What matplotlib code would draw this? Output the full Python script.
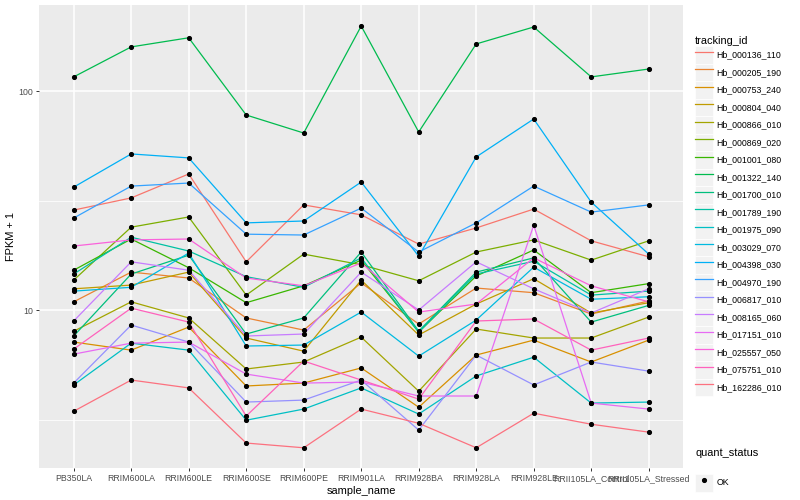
import numpy as np
import matplotlib.pyplot as plt
import matplotlib.ticker as mticker
from matplotlib.lines import Line2D
from matplotlib.patches import Patch
from matplotlib.legend_handler import HandlerTuple

plt.rcParams['font.family'] = ['Liberation Sans', 'DejaVu Sans']

# x categories
samples = ['PB350LA', 'RRIM600LA', 'RRIM600LE', 'RRIM600SE', 'RRIM600PE', 'RRIM901LA',
           'RRIM928BA', 'RRIM928LA', 'RRIM928LE', 'RRII105LA_Control', 'RRII105LA_Stressed']

tracking_ids = ['Hb_000136_110', 'Hb_000205_190', 'Hb_000753_240', 'Hb_000804_040',
                'Hb_000866_010', 'Hb_000869_020', 'Hb_001001_080', 'Hb_001322_140',
                'Hb_001700_010', 'Hb_001789_190', 'Hb_001975_090', 'Hb_003029_070',
                'Hb_004398_030', 'Hb_004970_190', 'Hb_006817_010', 'Hb_008165_060',
                'Hb_017151_010', 'Hb_025557_050', 'Hb_075751_010', 'Hb_162286_010']

# ggplot hue palette for 20 groups
colors = ['#F8766D', '#EA8331', '#D89000', '#C09B00', '#A3A500', '#7CAE00', '#39B600',
          '#00BB4E', '#00BF7D', '#00C1A3', '#00BFC4', '#00BAE0', '#00B0F6', '#35A2FF',
          '#9590FF', '#C77CFF', '#E76BF3', '#FA62DB', '#FF62BC', '#FC717F']

# FPKM + 1 per sample
hb_000136_110 = [28.6, 32.5, 41.8, 16.6, 30.2, 27.2, 20.0, 23.7, 28.9, 20.7, 17.5]
hb_000205_190 = [10.9, 14.9, 14.0, 9.2, 8.1, 13.3, 8.63, 12.6, 12.0, 9.59, 11.0]
hb_000753_240 = [7.14, 6.56, 8.36, 4.50, 4.64, 5.44, 3.60, 6.23, 7.29, 5.79, 7.29]
hb_000804_040 = [12.5, 13.0, 14.9, 7.45, 6.49, 13.7, 7.69, 10.65, 13.9, 9.69, 10.8]
hb_000866_010 = [8.0, 10.9, 9.2, 5.38, 5.79, 7.52, 4.26, 8.19, 7.45, 7.45, 9.29]
hb_000869_020 = [13.7, 23.9, 26.6, 11.7, 18.0, 16.1, 13.6, 18.4, 20.9, 16.9, 20.7]
hb_001001_080 = [15.2, 21.1, 15.6, 10.8, 12.9, 16.9, 7.93, 14.3, 18.8, 12.0, 13.2]
hb_001322_140 = [116, 159, 175, 77.7, 64.3, 198, 65, 164, 196, 116, 126]
hb_001700_010 = [7.61, 14.6, 17.8, 7.77, 9.2, 18.4, 8.01, 14.9, 17.3, 8.81, 10.5]
hb_001789_190 = [14.6, 21.5, 18.6, 14.2, 12.7, 17.3, 7.93, 14.6, 16.7, 11.7, 12.2]
hb_001975_090 = [4.55, 7.06, 6.56, 3.14, 3.53, 4.41, 3.35, 5.0, 6.09, 3.76, 3.80]
hb_003029_070 = [12.2, 12.7, 18.2, 6.85, 6.92, 9.79, 6.16, 9.0, 15.7, 11.2, 11.5]
hb_004398_030 = [36.4, 51.6, 49.5, 25.0, 25.5, 38.4, 17.6, 50.0, 74.5, 31.1, 18.0]
hb_004970_190 = [26.3, 36.8, 38.0, 22.2, 22.0, 29.2, 18.4, 25.0, 36.8, 28.0, 30.2]
hb_006817_010 = [4.64, 8.54, 7.14, 3.80, 3.88, 4.79, 2.83, 6.23, 4.55, 5.79, 5.26]
hb_008165_060 = [8.91, 16.6, 15.2, 7.61, 7.77, 14.9, 10.0, 16.6, 12.5, 9.69, 12.5]
hb_017151_010 = [6.29, 7.06, 7.14, 5.10, 4.64, 4.69, 4.05, 4.05, 24.4, 3.76, 3.53]
hb_025557_050 = [19.6, 20.9, 21.1, 14.0, 12.9, 16.4, 9.79, 10.65, 17.3, 12.9, 10.9]
hb_075751_010 = [6.63, 10.2, 8.81, 3.28, 5.85, 4.79, 3.92, 8.91, 9.1, 6.56, 7.45]
hb_162286_010 = [3.45, 4.79, 4.41, 2.47, 2.35, 3.53, 3.04, 2.35, 3.38, 3.01, 2.77]

series = [hb_000136_110, hb_000205_190, hb_000753_240, hb_000804_040, hb_000866_010,
          hb_000869_020, hb_001001_080, hb_001322_140, hb_001700_010, hb_001789_190,
          hb_001975_090, hb_003029_070, hb_004398_030, hb_004970_190, hb_006817_010,
          hb_008165_060, hb_017151_010, hb_025557_050, hb_075751_010, hb_162286_010]

fig = plt.figure(figsize=(8, 5), dpi=100)
ax = fig.add_axes([0.049, 0.064, 0.805, 0.926])
ax.set_facecolor('#EBEBEB')

x = np.arange(len(samples))
for vals, c in zip(series, colors):
    ax.plot(x, vals, color=c, lw=0.9, zorder=2)
for vals in series:
    ax.plot(x, vals, 'o', ms=2.7, color='black', zorder=3)

ax.set_yscale('log')
ax.set_ylim(1.90, 247)
ax.set_xlim(-0.6, len(samples) - 0.4)
ax.yaxis.set_major_locator(mticker.FixedLocator([10, 100]))
ax.yaxis.set_minor_locator(mticker.FixedLocator([10 ** 0.5, 10 ** 1.5, 10 ** 2.5]))
ax.yaxis.set_major_formatter(mticker.FuncFormatter(lambda v, p: f'{v:g}'))
ax.yaxis.set_minor_formatter(mticker.NullFormatter())
ax.set_xticks(x)
ax.set_xticklabels(samples)

ax.grid(which='major', color='white', lw=1.1)
ax.grid(which='minor', axis='y', color='white', lw=0.55)
ax.set_axisbelow(True)
for s in ax.spines.values():
    s.set_visible(False)
ax.tick_params(which='major', length=2.5, width=0.7, color='#333333',
               labelsize=6.3, labelcolor='#4D4D4D', pad=2)
ax.tick_params(which='minor', length=0)
ax.set_xlabel('sample_name', fontsize=7.9, labelpad=2)
ax.set_ylabel('FPKM + 1', fontsize=7.9, labelpad=1.5)

# legends
key_bg = Patch(facecolor='#F2F2F2', edgecolor='white', lw=0.5)
leg_kw = dict(loc='upper left', frameon=False, fontsize=6.3, title_fontsize=7.9,
              alignment='left', handlelength=2.0, handleheight=2.7, labelspacing=0.0,
              handletextpad=0.45, borderpad=0, borderaxespad=0,
              handler_map={tuple: HandlerTuple(ndivide=1)})

handles = [(key_bg, Line2D([], [], color=c, lw=0.9)) for c in colors]
leg1 = fig.legend(handles, tracking_ids, bbox_to_anchor=(0.869, 0.928),
                  title='tracking_id', **leg_kw)

ok_handle = (key_bg, Line2D([], [], ls='none', marker='o', ms=2.7, color='black'))
leg2 = fig.legend([ok_handle], ['OK'], bbox_to_anchor=(0.869, 0.052), **leg_kw)
fig.text(0.869, 1 - 453 / 500, 'quant_status', fontsize=7.9, ha='left', va='center')

fig.savefig('out.png', dpi=100)
